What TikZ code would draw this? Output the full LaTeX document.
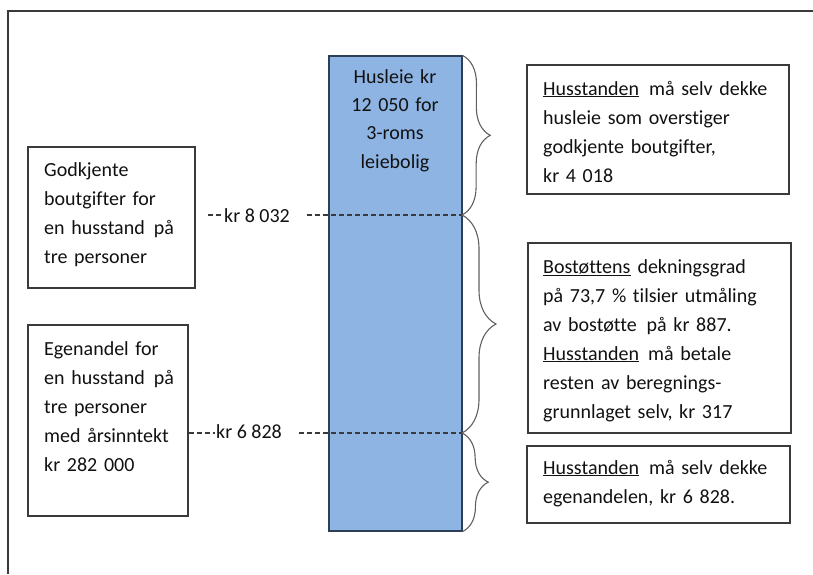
\documentclass[tikz,border=0pt]{standalone}
\usepackage{fontspec}
\setmainfont{Carlito}[Ligatures={NoCommon}]
\usetikzlibrary{decorations.pathreplacing}
\definecolor{barblue}{HTML}{8EB4E3}
\definecolor{bardraw}{HTML}{2B3F57}
\definecolor{boxdraw}{HTML}{3A3A3A}
\definecolor{txt}{HTML}{111111}
\tikzset{
  frame/.style={draw=boxdraw, line width=1.2pt},
  infobox/.style={draw=boxdraw, line width=1.1pt, inner sep=0pt},
  infotext/.style={inner sep=0pt, anchor=base west, align=left, text=txt,
                   font=\fontsize{20}{29}\selectfont},
  lbl/.style={inner sep=0pt, anchor=base west, text=txt, font=\fontsize{20}{24}\selectfont},
  dashconn/.style={draw=boxdraw, line width=1.2pt, dash pattern=on 5pt off 3pt},
  bracestyle/.style={draw=gray!75!black, line width=1.1pt,
                     decorate, decoration={brace, amplitude=#1, aspect=0.5}},
}
\newcommand{\ul}[1]{\underline{#1}}
\begin{document}
\begin{tikzpicture}[x=1pt, y=-1pt]
\useasboundingbox (0,0) rectangle (813,574);
% outer frame
\draw[frame] (8,574) -- (8,11) -- (813,11);

% bar
\node[infobox, draw=bardraw, fill=barblue, minimum width=133pt, minimum height=475pt] (bar) at (395.5,293.5) {};
\node[infotext, anchor=base, align=center, text width=110pt, font=\fontsize{20}{28.4}\selectfont] (bartext) at (395,83)
  {Husleie kr\\12 050 for\\3-roms\\leiebolig};

% left boxes
\node[infobox, minimum width=167pt, minimum height=141pt] (godk) at (111.5,217.5) {};
\node[infotext, text width=150pt] (godktext) at (44,176)
  {Godkjente\\boutgifter for\\en husstand\hspace{9pt}på\\tre personer};
\node[infobox, minimum width=160pt, minimum height=191pt] (egen) at (108,420.5) {};
\node[infotext, text width=150pt] (egentext) at (44,355)
  {Egenandel for\\en husstand\hspace{9pt}på\\tre personer\\med årsinntekt\\kr 282 000};

% right boxes
\node[infobox, minimum width=262pt, minimum height=129pt] (boxA) at (658,129.5) {};
\node[infotext, text width=240pt] (textA) at (543,95)
  {\ul{Husstanden}\hspace{10pt}må selv dekke\\husleie som overstiger\\godkjente boutgifter,\\kr 4 018};
\node[infobox, minimum width=263pt, minimum height=190pt] (boxB) at (659.5,338) {};
\node[infotext, text width=240pt] (textB) at (543,273)
  {\ul{Bostøttens}\hspace{7pt}dekningsgrad\\på 73,7 \% tilsier utmåling\\av bostøtte\hspace{10pt}på kr 887.\\\ul{Husstanden}\hspace{9pt}må betale\\resten av beregnings-\\grunnlaget selv, kr 317};
\node[infobox, minimum width=263pt, minimum height=77pt] (boxC) at (658.5,484.5) {};
\node[infotext, text width=240pt] (textC) at (543,474)
  {\ul{Husstanden}\hspace{10pt}må selv dekke\\egenandelen, kr 6 828.};

% marker coordinates on the bar edge
\coordinate (m1) at (462,215);
\coordinate (m2) at (462,433);

% labels
\node[lbl] (lab1) at (224,222) {kr 8 032};
\node[lbl] (lab2) at (216,438) {kr 6 828};

% dashed connectors
\draw[dashconn] ([xshift=12pt]godk.east |- m1) -- ([xshift=-3pt]lab1.west |- m1);
\draw[dashconn] ([xshift=17pt]lab1.east |- m1) -- (m1);
\draw[dashconn] (egen.east |- m2) -- ([xshift=-1pt]lab2.west |- m2);
\draw[dashconn] ([xshift=17pt]lab2.east |- m2) -- (m2);

% braces
\draw[bracestyle=28pt] (bar.north east) -- (m1);
\draw[bracestyle=34pt] (m1) -- (m2);
\draw[bracestyle=26pt] (m2) -- (bar.south east);
\end{tikzpicture}
\end{document}
